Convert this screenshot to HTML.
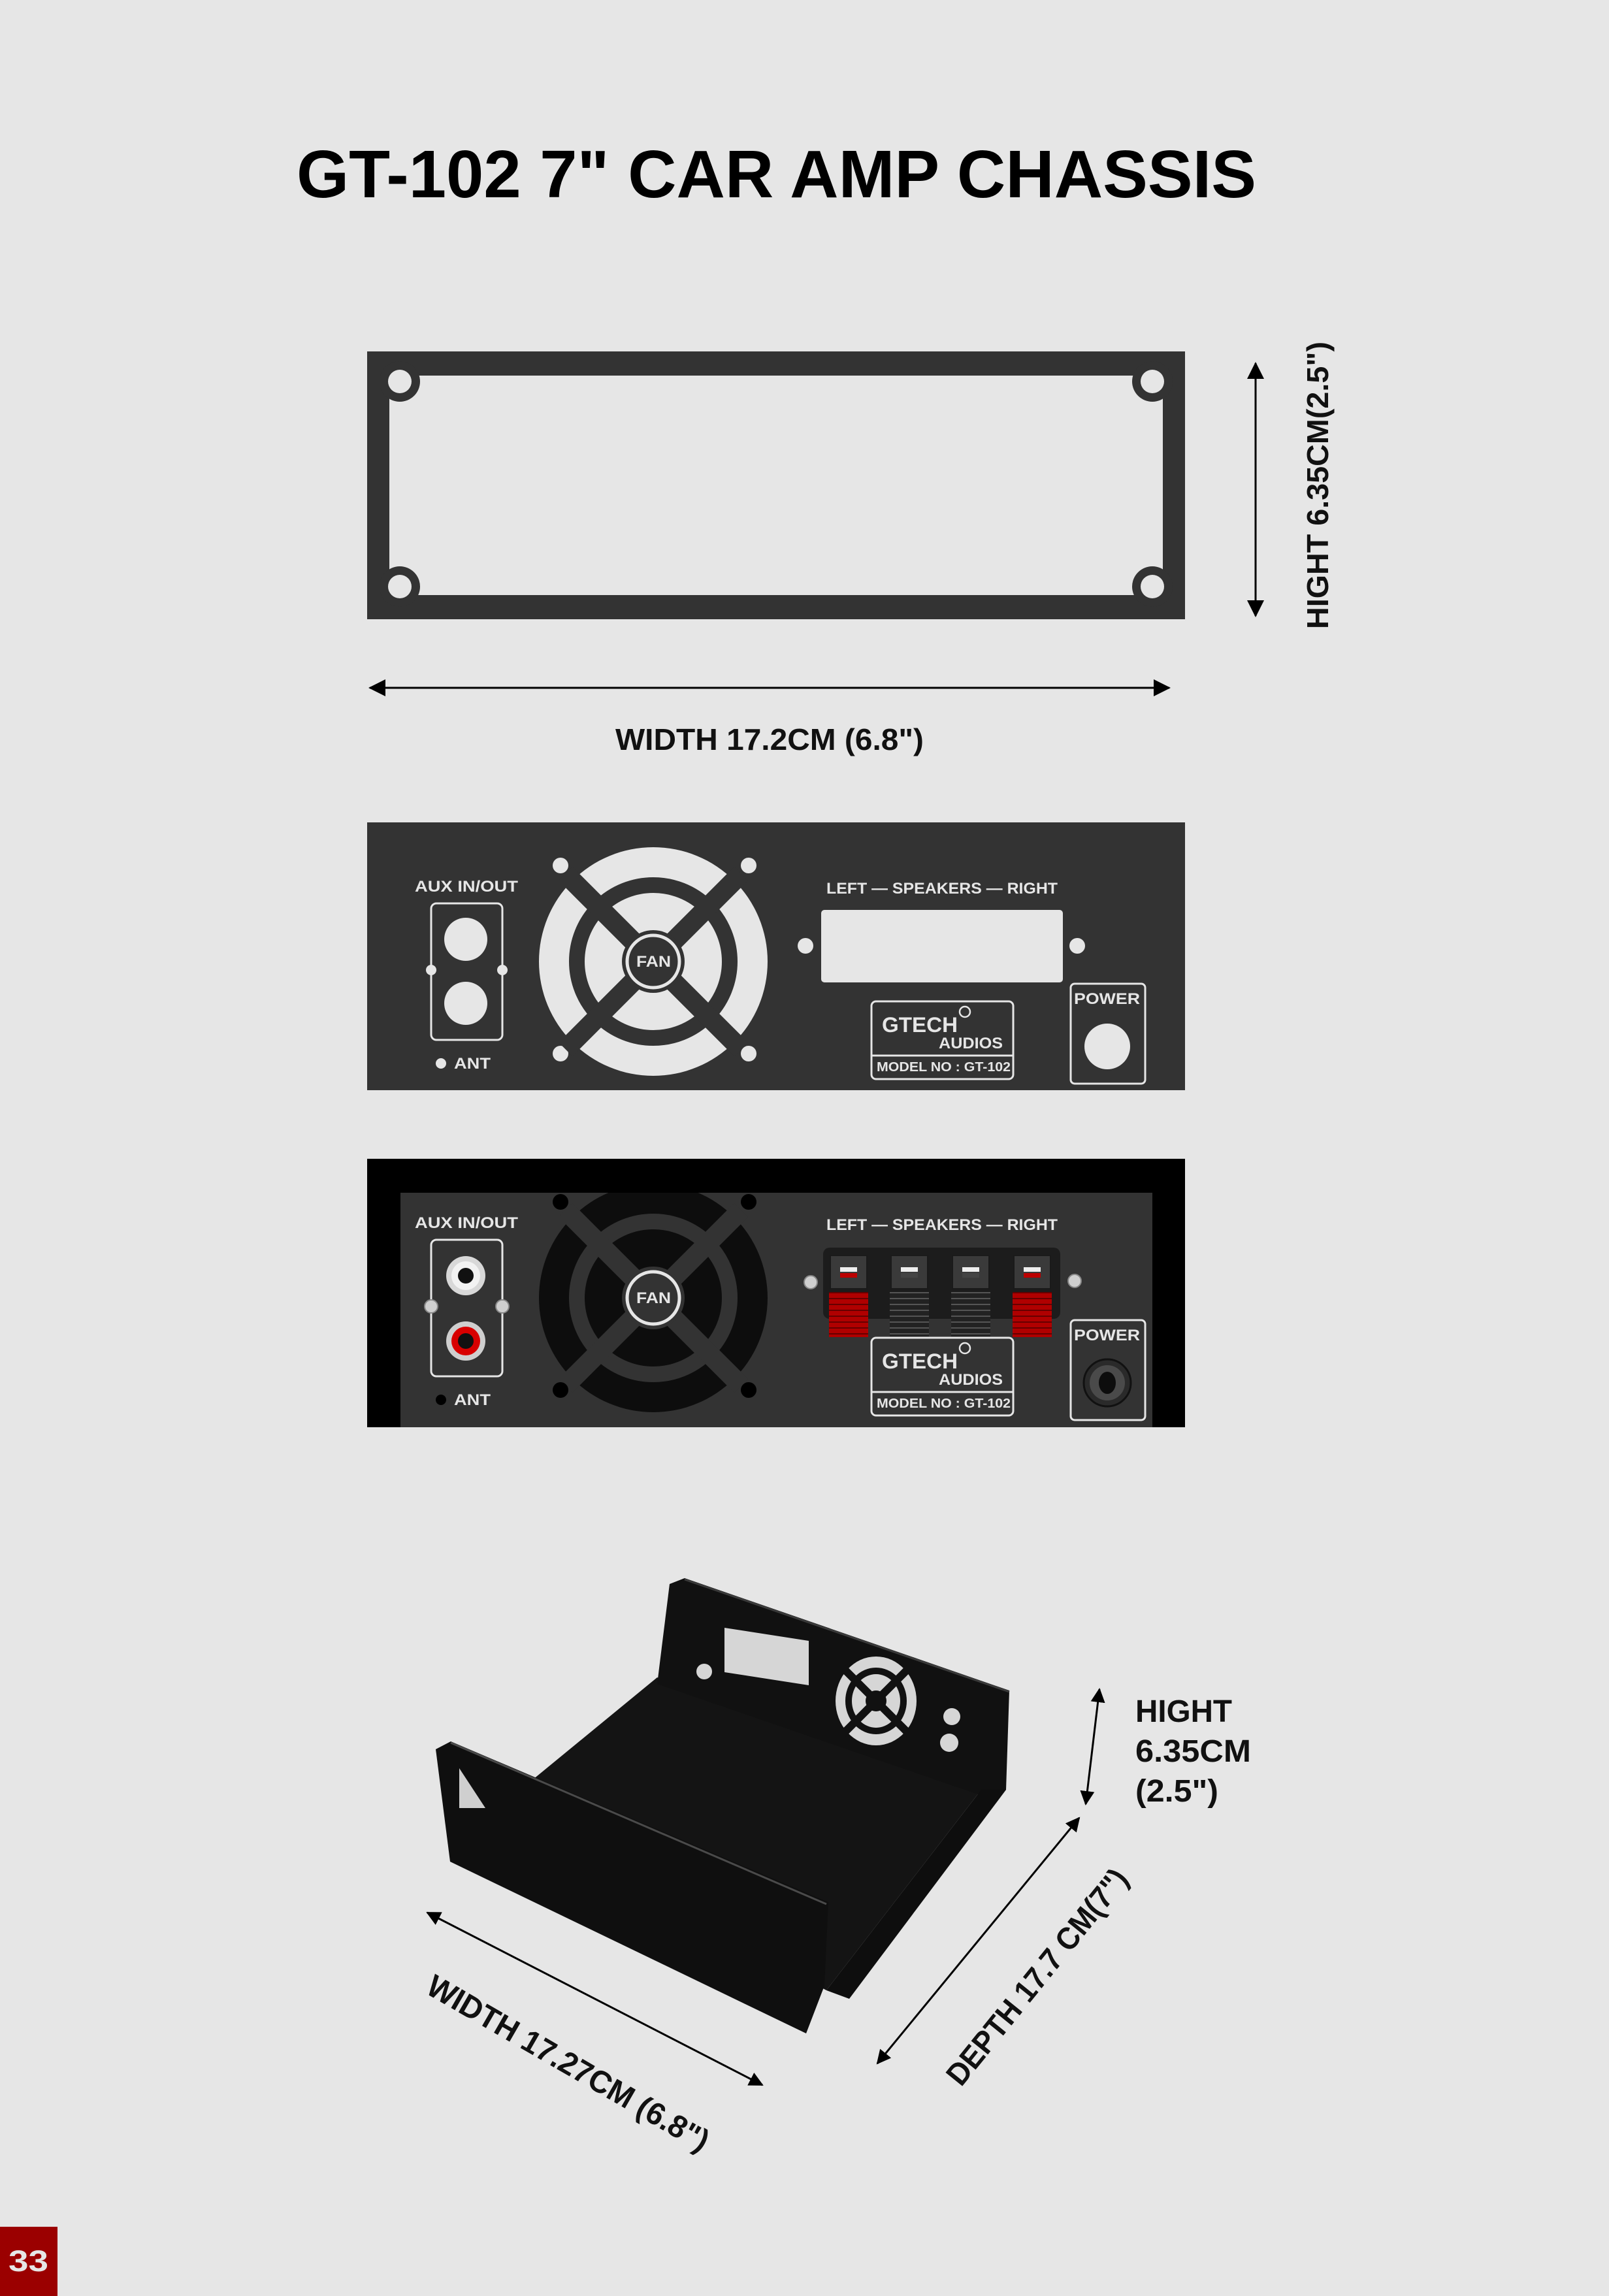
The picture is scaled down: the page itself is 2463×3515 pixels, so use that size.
<!DOCTYPE html>
<html><head><meta charset="utf-8">
<style>
html,body{margin:0;padding:0;background:#e6e6e6;}
svg{display:block;}
text{font-family:"Liberation Sans",sans-serif;font-weight:bold;}
</style></head>
<body>
<svg width="2463" height="3515" viewBox="0 0 2463 3515" xmlns="http://www.w3.org/2000/svg">
<defs>
  <marker id="ah" markerUnits="userSpaceOnUse" markerWidth="26" markerHeight="26" refX="24" refY="13" orient="auto-start-reverse">
    <path d="M0,0 L26,13 L0,26 Z" fill="#000"/>
  </marker>
  <marker id="ah2" markerUnits="userSpaceOnUse" markerWidth="22" markerHeight="22" refX="20" refY="11" orient="auto-start-reverse">
    <path d="M0,0 L22,11 L0,22 Z" fill="#000"/>
  </marker>
  <clipPath id="p3clip"><rect x="613" y="1826" width="1151" height="359"/></clipPath>
  <pattern id="redStripe" width="10" height="9" patternUnits="userSpaceOnUse">
    <rect width="10" height="9" fill="#b00000"/><rect y="7" width="10" height="2" fill="#600"/>
  </pattern>
  <pattern id="blkStripe" width="10" height="9" patternUnits="userSpaceOnUse">
    <rect width="10" height="9" fill="#222"/><rect y="7" width="10" height="2" fill="#555"/>
  </pattern>
</defs>
<rect width="2463" height="3515" fill="#e6e6e6"/>

<!-- Title -->
<text x="454" y="302" font-size="103" textLength="1469" lengthAdjust="spacingAndGlyphs" fill="#000">GT-102 7" CAR AMP CHASSIS</text>

<!-- Frame 1 -->
<path fill="#333" fill-rule="evenodd" d="M562,538 H1814 V948 H562 Z M596,575 H1780 V911 H596 Z"/>
<g fill="#333">
  <circle cx="612" cy="584" r="31"/><circle cx="1764" cy="584" r="31"/>
  <circle cx="612" cy="898" r="31"/><circle cx="1764" cy="898" r="31"/>
</g>
<g fill="#e6e6e6">
  <circle cx="612" cy="584" r="18"/><circle cx="1764" cy="584" r="18"/>
  <circle cx="612" cy="898" r="18"/><circle cx="1764" cy="898" r="18"/>
</g>
<line x1="1922" y1="556" x2="1922" y2="943" stroke="#000" stroke-width="3" marker-start="url(#ah)" marker-end="url(#ah)"/>
<text transform="translate(2033,963) rotate(-90)" font-size="46" textLength="440" lengthAdjust="spacingAndGlyphs" fill="#111">HIGHT 6.35CM(2.5")</text>
<line x1="566" y1="1053" x2="1790" y2="1053" stroke="#000" stroke-width="3" marker-start="url(#ah)" marker-end="url(#ah)"/>
<text x="942" y="1148" font-size="46" textLength="472" lengthAdjust="spacingAndGlyphs" fill="#111">WIDTH 17.2CM (6.8")</text>

<!-- Panel 2 -->
<rect x="562" y="1259" width="1252" height="410" fill="#333"/>
<g fill="#e6e6e6">
  <text x="635" y="1365" font-size="24" textLength="158" lengthAdjust="spacingAndGlyphs">AUX IN/OUT</text>
  <circle cx="713" cy="1438" r="33"/><circle cx="713" cy="1536" r="33"/>
  <circle cx="660" cy="1485" r="8"/><circle cx="769" cy="1485" r="8"/>
  <circle cx="675" cy="1628" r="8"/>
  <text x="695" y="1636" font-size="24" textLength="56" lengthAdjust="spacingAndGlyphs">ANT</text>
  <text x="1265" y="1368" font-size="24" textLength="354" lengthAdjust="spacingAndGlyphs">LEFT — SPEAKERS — RIGHT</text>
  <rect x="1257" y="1393" width="370" height="111" rx="5"/>
  <circle cx="1233" cy="1448" r="12"/><circle cx="1649" cy="1448" r="12"/>
  <circle cx="858" cy="1325" r="12"/><circle cx="1146" cy="1325" r="12"/>
  <circle cx="858" cy="1613" r="12"/><circle cx="1146" cy="1613" r="12"/>
</g>
<rect x="660" y="1383" width="109" height="209" rx="8" fill="none" stroke="#e6e6e6" stroke-width="3"/>
<!-- fan 2 -->
<circle cx="1000" cy="1472" r="175" fill="#e6e6e6"/>
<circle cx="1000" cy="1472" r="117" fill="none" stroke="#333" stroke-width="24"/>
<g transform="translate(1000,1472) rotate(45)" fill="#333">
  <rect x="-190" y="-15" width="380" height="30"/><rect x="-15" y="-190" width="30" height="380"/>
</g>
<circle cx="1000" cy="1472" r="48" fill="#333"/>
<circle cx="1000" cy="1472" r="40" fill="none" stroke="#e6e6e6" stroke-width="5"/>
<text x="974" y="1480" font-size="24" textLength="53" lengthAdjust="spacingAndGlyphs" fill="#e6e6e6">FAN</text>
<!-- logo 2 -->
<rect x="1334" y="1533" width="217" height="119" rx="7" fill="none" stroke="#e6e6e6" stroke-width="3"/>
<line x1="1334" y1="1616" x2="1551" y2="1616" stroke="#e6e6e6" stroke-width="3"/>
<g fill="#e6e6e6">
<text x="1350" y="1580" font-size="32" textLength="116" lengthAdjust="spacingAndGlyphs">GTECH</text>
<text x="1437" y="1605" font-size="24" textLength="98" lengthAdjust="spacingAndGlyphs">AUDIOS</text>
<text x="1342" y="1640" font-size="20" textLength="205" lengthAdjust="spacingAndGlyphs">MODEL NO : GT-102</text>
</g>
<circle cx="1477" cy="1549" r="8" fill="none" stroke="#e6e6e6" stroke-width="2.5"/>
<rect x="1639" y="1506" width="114" height="153" rx="6" fill="none" stroke="#e6e6e6" stroke-width="3"/>
<text x="1644" y="1537" font-size="24" textLength="101" lengthAdjust="spacingAndGlyphs" fill="#e6e6e6">POWER</text>
<circle cx="1695" cy="1602" r="35" fill="#e6e6e6"/>

<!-- Panel 3 -->
<rect x="562" y="1774" width="1252" height="411" fill="#000"/>
<rect x="613" y="1826" width="1151" height="359" fill="#333"/>
<g clip-path="url(#p3clip)">
  <circle cx="1000" cy="1987" r="175" fill="#0d0d0d"/>
  <circle cx="1000" cy="1987" r="117" fill="none" stroke="#333" stroke-width="24"/>
  <g transform="translate(1000,1987) rotate(45)" fill="#333">
    <rect x="-190" y="-15" width="380" height="30"/><rect x="-15" y="-190" width="30" height="380"/>
  </g>
  <circle cx="1000" cy="1987" r="48" fill="#333"/>
  <circle cx="1000" cy="1987" r="40" fill="none" stroke="#e6e6e6" stroke-width="5"/>
  <g fill="#000">
    <circle cx="858" cy="1840" r="12"/><circle cx="1146" cy="1840" r="12"/>
    <circle cx="858" cy="2128" r="12"/><circle cx="1146" cy="2128" r="12"/>
  </g>
</g>
<text x="974" y="1995" font-size="24" textLength="53" lengthAdjust="spacingAndGlyphs" fill="#e6e6e6">FAN</text>
<g fill="#e6e6e6">
  <text x="635" y="1880" font-size="24" textLength="158" lengthAdjust="spacingAndGlyphs">AUX IN/OUT</text>
  <text x="695" y="2151" font-size="24" textLength="56" lengthAdjust="spacingAndGlyphs">ANT</text>
  <text x="1265" y="1883" font-size="24" textLength="354" lengthAdjust="spacingAndGlyphs">LEFT — SPEAKERS — RIGHT</text>
</g>
<circle cx="675" cy="2143" r="8" fill="#000"/>
<rect x="660" y="1898" width="109" height="209" rx="8" fill="none" stroke="#e6e6e6" stroke-width="3"/>
<circle cx="713" cy="1953" r="30" fill="#d8d8d8"/><circle cx="713" cy="1953" r="22" fill="#f2f2f2"/><circle cx="713" cy="1953" r="12" fill="#111"/>
<circle cx="713" cy="2053" r="30" fill="#cfcfcf"/><circle cx="713" cy="2053" r="22" fill="#d80000"/><circle cx="713" cy="2053" r="12" fill="#111"/>
<g fill="#cfcfcf" stroke="#888" stroke-width="2">
  <circle cx="660" cy="2000" r="10"/><circle cx="769" cy="2000" r="10"/>
  <circle cx="1241" cy="1963" r="10"/><circle cx="1645" cy="1961" r="10"/>
</g>
<!-- speaker terminals -->
<rect x="1260" y="1910" width="363" height="109" rx="10" fill="#1c1c1c"/>
<g>
  <rect x="1271" y="1922" width="56" height="51" fill="#3a3a3a" stroke="#1a1a1a" stroke-width="2"/>
  <rect x="1286" y="1940" width="26" height="7" fill="#eee"/><rect x="1286" y="1949" width="26" height="7" fill="#b00"/>
  <rect x="1269" y="1978" width="60" height="69" fill="url(#redStripe)"/>
  <rect x="1364" y="1922" width="56" height="51" fill="#3a3a3a" stroke="#1a1a1a" stroke-width="2"/>
  <rect x="1379" y="1940" width="26" height="7" fill="#eee"/><rect x="1379" y="1949" width="26" height="7" fill="#444"/>
  <rect x="1362" y="1978" width="60" height="69" fill="url(#blkStripe)"/>
  <rect x="1458" y="1922" width="56" height="51" fill="#3a3a3a" stroke="#1a1a1a" stroke-width="2"/>
  <rect x="1473" y="1940" width="26" height="7" fill="#eee"/><rect x="1473" y="1949" width="26" height="7" fill="#444"/>
  <rect x="1456" y="1978" width="60" height="69" fill="url(#blkStripe)"/>
  <rect x="1552" y="1922" width="56" height="51" fill="#3a3a3a" stroke="#1a1a1a" stroke-width="2"/>
  <rect x="1567" y="1940" width="26" height="7" fill="#eee"/><rect x="1567" y="1949" width="26" height="7" fill="#b00"/>
  <rect x="1550" y="1978" width="60" height="69" fill="url(#redStripe)"/>
</g>
<!-- logo 3 -->
<rect x="1334" y="2048" width="217" height="119" rx="7" fill="#333" stroke="#e6e6e6" stroke-width="3"/>
<line x1="1334" y1="2131" x2="1551" y2="2131" stroke="#e6e6e6" stroke-width="3"/>
<g fill="#e6e6e6">
<text x="1350" y="2095" font-size="32" textLength="116" lengthAdjust="spacingAndGlyphs">GTECH</text>
<text x="1437" y="2120" font-size="24" textLength="98" lengthAdjust="spacingAndGlyphs">AUDIOS</text>
<text x="1342" y="2155" font-size="20" textLength="205" lengthAdjust="spacingAndGlyphs">MODEL NO : GT-102</text>
</g>
<circle cx="1477" cy="2064" r="8" fill="none" stroke="#e6e6e6" stroke-width="2.5"/>
<rect x="1639" y="2021" width="114" height="153" rx="6" fill="none" stroke="#e6e6e6" stroke-width="3"/>
<text x="1644" y="2052" font-size="24" textLength="101" lengthAdjust="spacingAndGlyphs" fill="#e6e6e6">POWER</text>
<circle cx="1695" cy="2117" r="36" fill="#2a2a2a" stroke="#111" stroke-width="3"/>
<circle cx="1695" cy="2117" r="27" fill="#4a4a4a"/>
<ellipse cx="1695" cy="2117" rx="13" ry="17" fill="#0d0d0d"/>

<!-- 3D chassis -->
<polygon points="1006,2568 1502,2740 1265,3047 760,2770" fill="#141414"/>
<polygon points="1025,2425 1048,2416 1545,2588 1540,2740 1500,2748 1006,2578" fill="#111"/>
<line x1="1048" y1="2418" x2="1545" y2="2590" stroke="#3a3a3a" stroke-width="3"/>
<polygon points="1502,2740 1540,2740 1300,3060 1265,3047" fill="#0e0e0e"/>
<polygon points="667,2678 690,2666 1268,2912 1262,3040 1234,3113 689,2850" fill="#0f0f0f"/>
<line x1="690" y1="2668" x2="1265" y2="2915" stroke="#4a4a4a" stroke-width="3"/>
<polygon points="703,2707 703,2768 743,2768" fill="#cfcfcf"/>
<polygon points="1109,2492 1238,2512 1238,2580 1109,2560" fill="#d6d6d6"/>
<circle cx="1078" cy="2559" r="12" fill="#d6d6d6"/>
<circle cx="1457" cy="2628" r="13" fill="#d6d6d6"/>
<circle cx="1453" cy="2668" r="14" fill="#d6d6d6"/>
<ellipse cx="1341" cy="2604" rx="62" ry="68" fill="#d6d6d6"/>
<ellipse cx="1341" cy="2604" rx="42" ry="46" fill="none" stroke="#111" stroke-width="10"/>
<g transform="translate(1341,2604) rotate(45)" fill="#111">
  <rect x="-72" y="-6" width="144" height="12"/><rect x="-6" y="-72" width="12" height="144"/>
</g>
<circle cx="1341" cy="2604" r="16" fill="#111"/>
<!-- 3D dimension arrows -->
<line x1="1683" y1="2586" x2="1662" y2="2762" stroke="#000" stroke-width="3" marker-start="url(#ah2)" marker-end="url(#ah2)"/>
<g fill="#111">
<text x="1738" y="2636" font-size="48" textLength="148" lengthAdjust="spacingAndGlyphs">HIGHT</text>
<text x="1738" y="2697" font-size="48" textLength="177" lengthAdjust="spacingAndGlyphs">6.35CM</text>
<text x="1738" y="2758" font-size="48" textLength="127" lengthAdjust="spacingAndGlyphs">(2.5")</text>
</g>
<line x1="1652" y1="2783" x2="1343" y2="3159" stroke="#000" stroke-width="3" marker-start="url(#ah2)" marker-end="url(#ah2)"/>
<text transform="translate(1587,3026) rotate(-51)" x="0" y="17" text-anchor="middle" font-size="48" textLength="410" lengthAdjust="spacingAndGlyphs" fill="#111">DEPTH 17.7 CM(7")</text>
<line x1="654" y1="2928" x2="1167" y2="3192" stroke="#000" stroke-width="3" marker-start="url(#ah2)" marker-end="url(#ah2)"/>
<text transform="translate(870,3158) rotate(30)" x="0" y="17" text-anchor="middle" font-size="48" textLength="490" lengthAdjust="spacingAndGlyphs" fill="#111">WIDTH 17.27CM (6.8")</text>

<!-- page number -->
<rect x="0" y="3409" width="88" height="106" fill="#9b0000"/>
<text x="13" y="3477" font-size="45" textLength="61" lengthAdjust="spacingAndGlyphs" fill="#e6e6e6">33</text>
</svg>
</body></html>
